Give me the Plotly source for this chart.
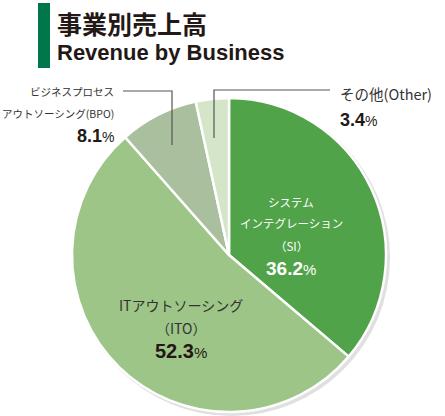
import plotly.graph_objects as go

# ---- data ----
categories = ["SI", "ITO", "BPO", "Other"]
label_lines = [
    ["システム", "インテグレーション", "（SI）"],
    ["ITアウトソーシング", "（ITO）"],
    ["ビジネスプロセス", "アウトソーシング(BPO)"],
    ["その他(Other)"],
]
values = [36.2, 52.3, 8.1, 3.4]
colors = ["#51A34A", "#9EC588", "#A9BF9E", "#D5E5C8"]
title_ja = "事業別売上高"
title_en = "Revenue by Business"

W, H = 445, 416
cx, cy, r = 229, 255, 157  # pie centre / radius in px (from top-left)

def px(x):
    return x / W

def py(y):
    return 1 - y / H

JP = "Noto Sans CJK JP"
LAT = "Liberation Sans, Arial"

fig = go.Figure()
fig.add_trace(go.Pie(
    labels=categories,
    values=values,
    sort=False,
    direction="clockwise",
    rotation=0,
    marker=dict(colors=colors, line=dict(color="white", width=2.5)),
    textinfo="none",
    hoverinfo="skip",
    showlegend=False,
    domain=dict(x=[px(cx - r), px(cx + r)], y=[py(cy + r), py(cy - r)]),
))

shapes = []
# soft shadow behind pie
shapes.append(dict(type="circle", xref="paper", yref="paper", layer="below",
                   x0=px(cx - r + 1), x1=px(cx + r + 4), y0=py(cy + r + 4), y1=py(cy - r + 1),
                   fillcolor="#e0e0e0", line=dict(width=0)))
# title bar
shapes.append(dict(type="rect", xref="paper", yref="paper",
                   x0=px(38), x1=px(50), y0=py(68), y1=py(3),
                   fillcolor="#00774A", line=dict(width=0)))
# leader lines
lc = dict(color="#555555", width=1.2)
shapes.append(dict(type="path", xref="paper", yref="paper",
                   path=f"M {px(123)},{py(91)} L {px(172)},{py(91)} L {px(172)},{py(145)}",
                   line=lc))
shapes.append(dict(type="path", xref="paper", yref="paper",
                   path=f"M {px(214)},{py(138)} L {px(214)},{py(90)} L {px(330)},{py(90)}",
                   line=lc))

def pct(v, size, small):
    return (f"<b><span style='font-size:{size}px'>{v}</span></b>"
            f"<span style='font-size:{small}px'>%</span>")

anns = []
def ann(text, x, y, size, color, anchor="center", family=JP):
    anns.append(dict(text=text, x=px(x), y=py(y), xref="paper", yref="paper",
                     xanchor=anchor, yanchor="middle", showarrow=False,
                     font=dict(size=size, color=color, family=family)))

# title
ann(f"<b>{title_ja}</b>", 55, 23, 25, "#231815", "left")
ann(f"<b>{title_en}</b>", 55, 52, 22, "#231815", "left", LAT)

# SI (inside, white)
for t, y in zip(label_lines[0], [202, 223, 246]):
    ann(t, 291, y, 11.5, "white")
ann(pct(values[0], 19, 15), 291, 268, 19, "white", family=LAT)

# ITO (inside, dark)
for t, y in zip(label_lines[1], [305, 328]):
    ann(t, 181, y, 14, "#333333")
ann(pct(values[1], 20, 15), 181, 351, 20, "#231815", family=LAT)

# BPO (outside, right aligned)
for t, y in zip(label_lines[2], [91, 113]):
    ann(t, 116, y, 10.5, "#333333", "right")
ann(pct(values[2], 18, 14), 116, 136, 18, "#231815", "right", LAT)

# Other (outside, left aligned)
ann(label_lines[3][0], 338, 93, 14.5, "#333333", "left")
ann(pct(values[3], 18, 14), 338, 120, 18, "#231815", "left", LAT)

fig.update_layout(
    width=W, height=H,
    margin=dict(l=0, r=0, t=0, b=0),
    paper_bgcolor="white", plot_bgcolor="white",
    shapes=shapes, annotations=anns,
)
fig.write_html("out.html", config={"displayModeBar": False},
               post_script="document.body.style.margin='0';document.body.style.overflow='hidden';")
